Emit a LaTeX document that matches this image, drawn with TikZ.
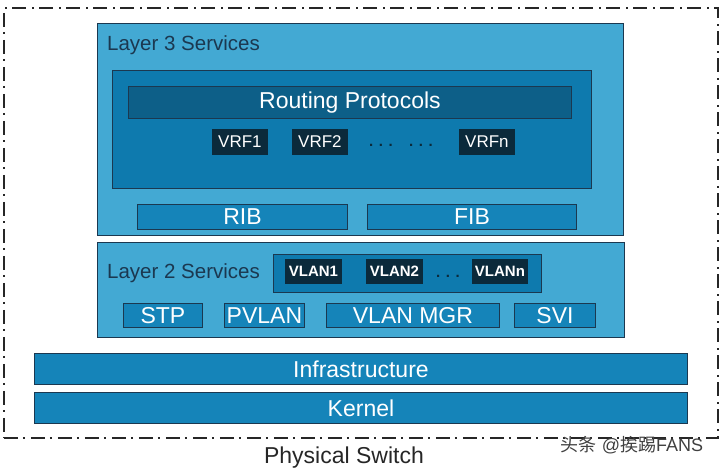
\documentclass[tikz,border=0pt]{standalone}
\usepackage{fontspec}
\setmainfont{Liberation Sans}
\newfontfamily\cjk{Noto Sans CJK SC}
\definecolor{lightbl}{HTML}{43A9D3}
\definecolor{midbl}{HTML}{1584B9}
\definecolor{innerbl}{HTML}{0E7AAE}
\definecolor{barbl}{HTML}{0D5F88}
\definecolor{darkbl}{HTML}{0B2A3B}
\definecolor{edgebl}{HTML}{1B3850}
\tikzset{
  blk/.style={draw=edgebl, line width=0.9pt, inner sep=0pt, anchor=north west},
  layerbox/.style={blk, fill=lightbl},
  midbox/.style={blk, fill=midbl, text=white, font=\fontsize{23}{23}\selectfont},
  innerbox/.style={blk, fill=innerbl},
  barbox/.style={blk, fill=barbl, text=white, font=\fontsize{23}{23}\selectfont},
  vrfbox/.style={blk, draw=darkbl, fill=darkbl, text=white, font=\fontsize{17}{17}\selectfont},
  vlanbox/.style={blk, draw=darkbl, fill=darkbl, text=white, font=\bfseries\fontsize{15}{15}\selectfont},
  lbl/.style={inner sep=0pt, text=edgebl, font=\fontsize{20.5}{21}\selectfont},
  dotlbl/.style={inner sep=0pt, text=darkbl, font=\bfseries\fontsize{15}{15}\selectfont}
}
\begin{document}
\begin{tikzpicture}[x=1pt,y=-1pt]
\useasboundingbox (0,0) rectangle (720,470);
% outer
\node[blk, draw=black!85, line width=1.8pt, dash pattern=on 14pt off 5pt on 2pt off 6pt, minimum width=714pt, minimum height=430pt] (outer) at (3,7) {};
% layer 3
\node[layerbox, minimum width=526pt, minimum height=212pt] (l3) at (97,23) {};
\node[lbl, anchor=west] (l3t) at (107,45) {Layer 3 Services};
\node[innerbox, minimum width=479pt, minimum height=118pt] (rpbox) at (112,70) {};
\node[barbox, minimum width=443pt, minimum height=32pt] (rp) at (128,86) {Routing Protocols};
\node[vrfbox, minimum width=55pt, minimum height=25pt] (vrf1) at (212,129) {VRF1};
\node[vrfbox, minimum width=55pt, minimum height=25pt] (vrf2) at (292,129) {VRF2};
\node[vrfbox, minimum width=55pt, minimum height=25pt] (vrfn) at (459,129) {VRFn};
\node[dotlbl] (d1) at (381,145) {. . .};
\node[dotlbl] (d2) at (421,145) {. . .};
\node[midbox, minimum width=210pt, minimum height=25pt] (rib) at (137,204) {RIB};
\node[midbox, minimum width=209pt, minimum height=25pt] (fib) at (367,204) {FIB};
% layer 2
\node[layerbox, minimum width=527pt, minimum height=95pt] (l2) at (97,242) {};
\node[lbl, anchor=west] (l2t) at (107,273) {Layer 2 Services};
\node[innerbox, minimum width=268pt, minimum height=38pt] (vbox) at (273,254) {};
\node[vlanbox, minimum width=56pt, minimum height=24pt] (vlan1) at (285,259) {VLAN1};
\node[vlanbox, minimum width=56pt, minimum height=24pt] (vlan2) at (366,259) {VLAN2};
\node[vlanbox, minimum width=55pt, minimum height=24pt] (vlann) at (472,259) {VLANn};
\node[dotlbl] (d3) at (448,276) {. . .};
\node[midbox, minimum width=79pt, minimum height=24pt] (stp) at (123,303) {STP};
\node[midbox, minimum width=80pt, minimum height=24pt] (pvlan) at (224,303) {PVLAN};
\node[midbox, minimum width=173pt, minimum height=24pt] (vmgr) at (326,303) {VLAN MGR};
\node[midbox, minimum width=81pt, minimum height=24pt] (svi) at (514,303) {SVI};
% infrastructure / kernel
\node[midbox, minimum width=653pt, minimum height=31pt] (infra) at (34,353) {Infrastructure};
\node[midbox, minimum width=653pt, minimum height=31pt] (kernel) at (34,392) {Kernel};
% captions
\node[inner sep=0pt, text=black!85, font=\fontsize{23}{23}\selectfont] (phys) at (344,458) {Physical Switch};
\node[inner sep=0pt, text=black!75, font=\fontsize{18}{18}\selectfont] (wm) at (632,445) {{\cjk 头条} @{\cjk 挨踢}FANS};
\end{tikzpicture}
\end{document}
